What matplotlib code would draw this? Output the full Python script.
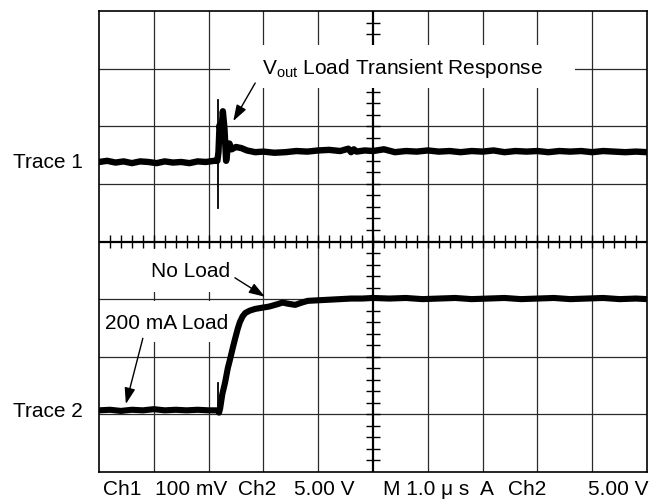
import numpy as np
import matplotlib.pyplot as plt
from matplotlib.patches import Rectangle

plt.rcParams['font.family'] = ['Liberation Sans', 'DejaVu Sans']
plt.rcParams['mathtext.fontset'] = 'custom'
plt.rcParams['mathtext.rm'] = 'Liberation Sans'

# Screen is 10 x 8 divisions, values in divisions from screen centre row
# Trace 1: Vout (Ch1, 100 mV/div)
trace1_t = [0.00, 0.15, 0.30, 0.45, 0.60, 0.75, 0.90, 1.05, 1.20, 1.35, 1.50,
            1.65, 1.80, 1.95, 2.10, 2.16, 2.18, 2.20, 2.23, 2.26, 2.29, 2.32,
            2.35, 2.38, 2.42, 2.50, 2.60, 2.70, 2.85, 3.00, 3.20, 3.40, 3.60,
            3.80, 4.00, 4.20, 4.40, 4.55, 4.60, 4.65, 4.70, 4.85, 5.00, 5.20,
            5.40, 5.60, 5.80, 6.00, 6.20, 6.40, 6.60, 6.80, 7.00, 7.20, 7.40,
            7.60, 7.80, 8.00, 8.20, 8.40, 8.60, 8.80, 9.00, 9.20, 9.40, 9.60,
            9.80, 10.00]
trace1_v = [1.38, 1.40, 1.37, 1.39, 1.36, 1.39, 1.38, 1.36, 1.39, 1.37, 1.38,
            1.36, 1.39, 1.38, 1.40, 1.40, 1.55, 2.02, 1.85, 2.26, 1.95, 1.40,
            1.62, 1.70, 1.60, 1.64, 1.62, 1.58, 1.55, 1.56, 1.54, 1.55, 1.57,
            1.56, 1.58, 1.59, 1.57, 1.61, 1.55, 1.60, 1.56, 1.58, 1.57, 1.60,
            1.55, 1.57, 1.56, 1.58, 1.56, 1.57, 1.55, 1.57, 1.56, 1.58, 1.55,
            1.57, 1.56, 1.57, 1.55, 1.57, 1.56, 1.57, 1.55, 1.57, 1.56, 1.55,
            1.56, 1.55]
trace1_glitch_t = [2.165, 2.165]
trace1_glitch_v = [0.58, 2.46]

# Trace 2: enable step (Ch2, 5 V/div)
trace2_t = [0.00, 0.20, 0.40, 0.60, 0.80, 1.00, 1.20, 1.40, 1.60, 1.80, 2.00,
            2.17, 2.19, 2.21, 2.25, 2.30, 2.35, 2.39, 2.44, 2.48, 2.53, 2.57,
            2.62, 2.67, 2.75, 2.85, 2.97, 3.10, 3.25, 3.35, 3.45, 3.58, 3.70,
            3.81, 4.00, 4.20, 4.40, 4.60, 4.80, 5.00, 5.30, 5.60, 5.90, 6.20,
            6.50, 6.80, 7.10, 7.40, 7.70, 8.00, 8.30, 8.60, 8.90, 9.20, 9.50,
            9.80, 10.00]
trace2_v = [-2.93, -2.92, -2.94, -2.92, -2.93, -2.91, -2.93, -2.92, -2.93,
            -2.92, -2.93, -2.93, -2.97, -2.90, -2.65, -2.45, -2.20, -2.05,
            -1.85, -1.70, -1.52, -1.40, -1.30, -1.24, -1.20, -1.17, -1.15,
            -1.13, -1.09, -1.06, -1.08, -1.10, -1.06, -1.03, -1.02, -1.01,
            -1.00, -0.99, -0.99, -0.98, -0.99, -0.98, -1.00, -0.99, -0.98,
            -1.00, -0.99, -0.98, -1.00, -0.99, -0.98, -1.00, -0.99, -0.98,
            -1.00, -0.99, -1.00]
trace2_glitch_t = [2.17, 2.17]
trace2_glitch_v = [-2.95, -2.46]

bottom_labels = ['Ch1', '100 mV', 'Ch2', '5.00 V', 'M 1.0 \u03bc s', 'A', 'Ch2', '5.00 V']
bottom_label_x = [103, 155, 238, 294, 383, 480, 508, 588]  # pixel columns

W, H = 663, 501
fig = plt.figure(figsize=(W / 100, H / 100), dpi=100)
ax = fig.add_axes([99 / W, 29 / H, 548 / W, 461 / H])
ax.set_xlim(0, 10)
ax.set_ylim(-4, 4)
ax.set_xticks([])
ax.set_yticks([])
for sp in ax.spines.values():
    sp.set_linewidth(1.2)

# graticule
for gx in range(1, 10):
    if gx != 5:
        ax.axvline(gx, color='#2a2a2a', lw=0.9, zorder=1)
for gy in range(-3, 4):
    if gy != 0:
        ax.axhline(gy, color='#2a2a2a', lw=0.9, zorder=1)
ax.axvline(5, color='k', lw=1.6, zorder=1)
ax.axhline(0, color='k', lw=1.6, zorder=1)
ax.vlines(np.arange(0.2, 10, 0.2), -0.11, 0.11, color='k', lw=1.0, zorder=1)
ax.hlines(np.arange(-3.8, 4, 0.2), 4.87, 5.13, color='k', lw=1.0, zorder=1)

# white backing behind the callout labels
for x0, y0, w, h in [(2.39, 2.66, 6.30, 0.75), (0.5, -0.88, 2.1, 0.75),
                     (0.05, -1.74, 2.37, 0.71)]:
    ax.add_patch(Rectangle((x0, y0), w, h, fc='white', ec='none', zorder=1.5))

# traces
ax.plot(trace1_t, trace1_v, color='k', lw=4.6, solid_joinstyle='round', zorder=3)
ax.plot(trace1_glitch_t, trace1_glitch_v, color='k', lw=1.3, zorder=3)
ax.plot(trace2_t, trace2_v, color='k', lw=4.4, solid_joinstyle='round', zorder=3)
ax.plot(trace2_glitch_t, trace2_glitch_v, color='k', lw=1.3, zorder=3)

fs = 15
arrow = dict(arrowstyle='-|>,head_length=0.75,head_width=0.25', color='k',
             lw=1.0, mutation_scale=13, shrinkA=0, shrinkB=0)
ax.text(2.97, 2.91, r'$\mathrm{V_{out}}$ Load Transient Response', fontsize=fs,
        ha='left', va='baseline', zorder=4)
ax.annotate('', xy=(2.45, 2.09), xytext=(2.85, 2.75), arrowprops=arrow, zorder=4)
ax.text(0.95, -0.62, 'No Load', fontsize=fs, ha='left', va='baseline', zorder=4)
ax.annotate('', xy=(3.03, -0.96), xytext=(2.48, -0.63), arrowprops=arrow, zorder=4)
ax.text(0.11, -1.52, '200 mA Load', fontsize=fs, ha='left', va='baseline', zorder=4)
ax.annotate('', xy=(0.49, -2.82), xytext=(0.80, -1.68), arrowprops=arrow, zorder=4)

fig.text(13 / W, 1 - 168 / H, 'Trace 1', fontsize=fs, ha='left', va='baseline')
fig.text(13 / W, 1 - 417 / H, 'Trace 2', fontsize=fs, ha='left', va='baseline')
for lab, px in zip(bottom_labels, bottom_label_x):
    fig.text(px / W, 1 - 495 / H, lab, fontsize=fs, ha='left', va='baseline')

fig.savefig('out.png', dpi=100, facecolor='white')
